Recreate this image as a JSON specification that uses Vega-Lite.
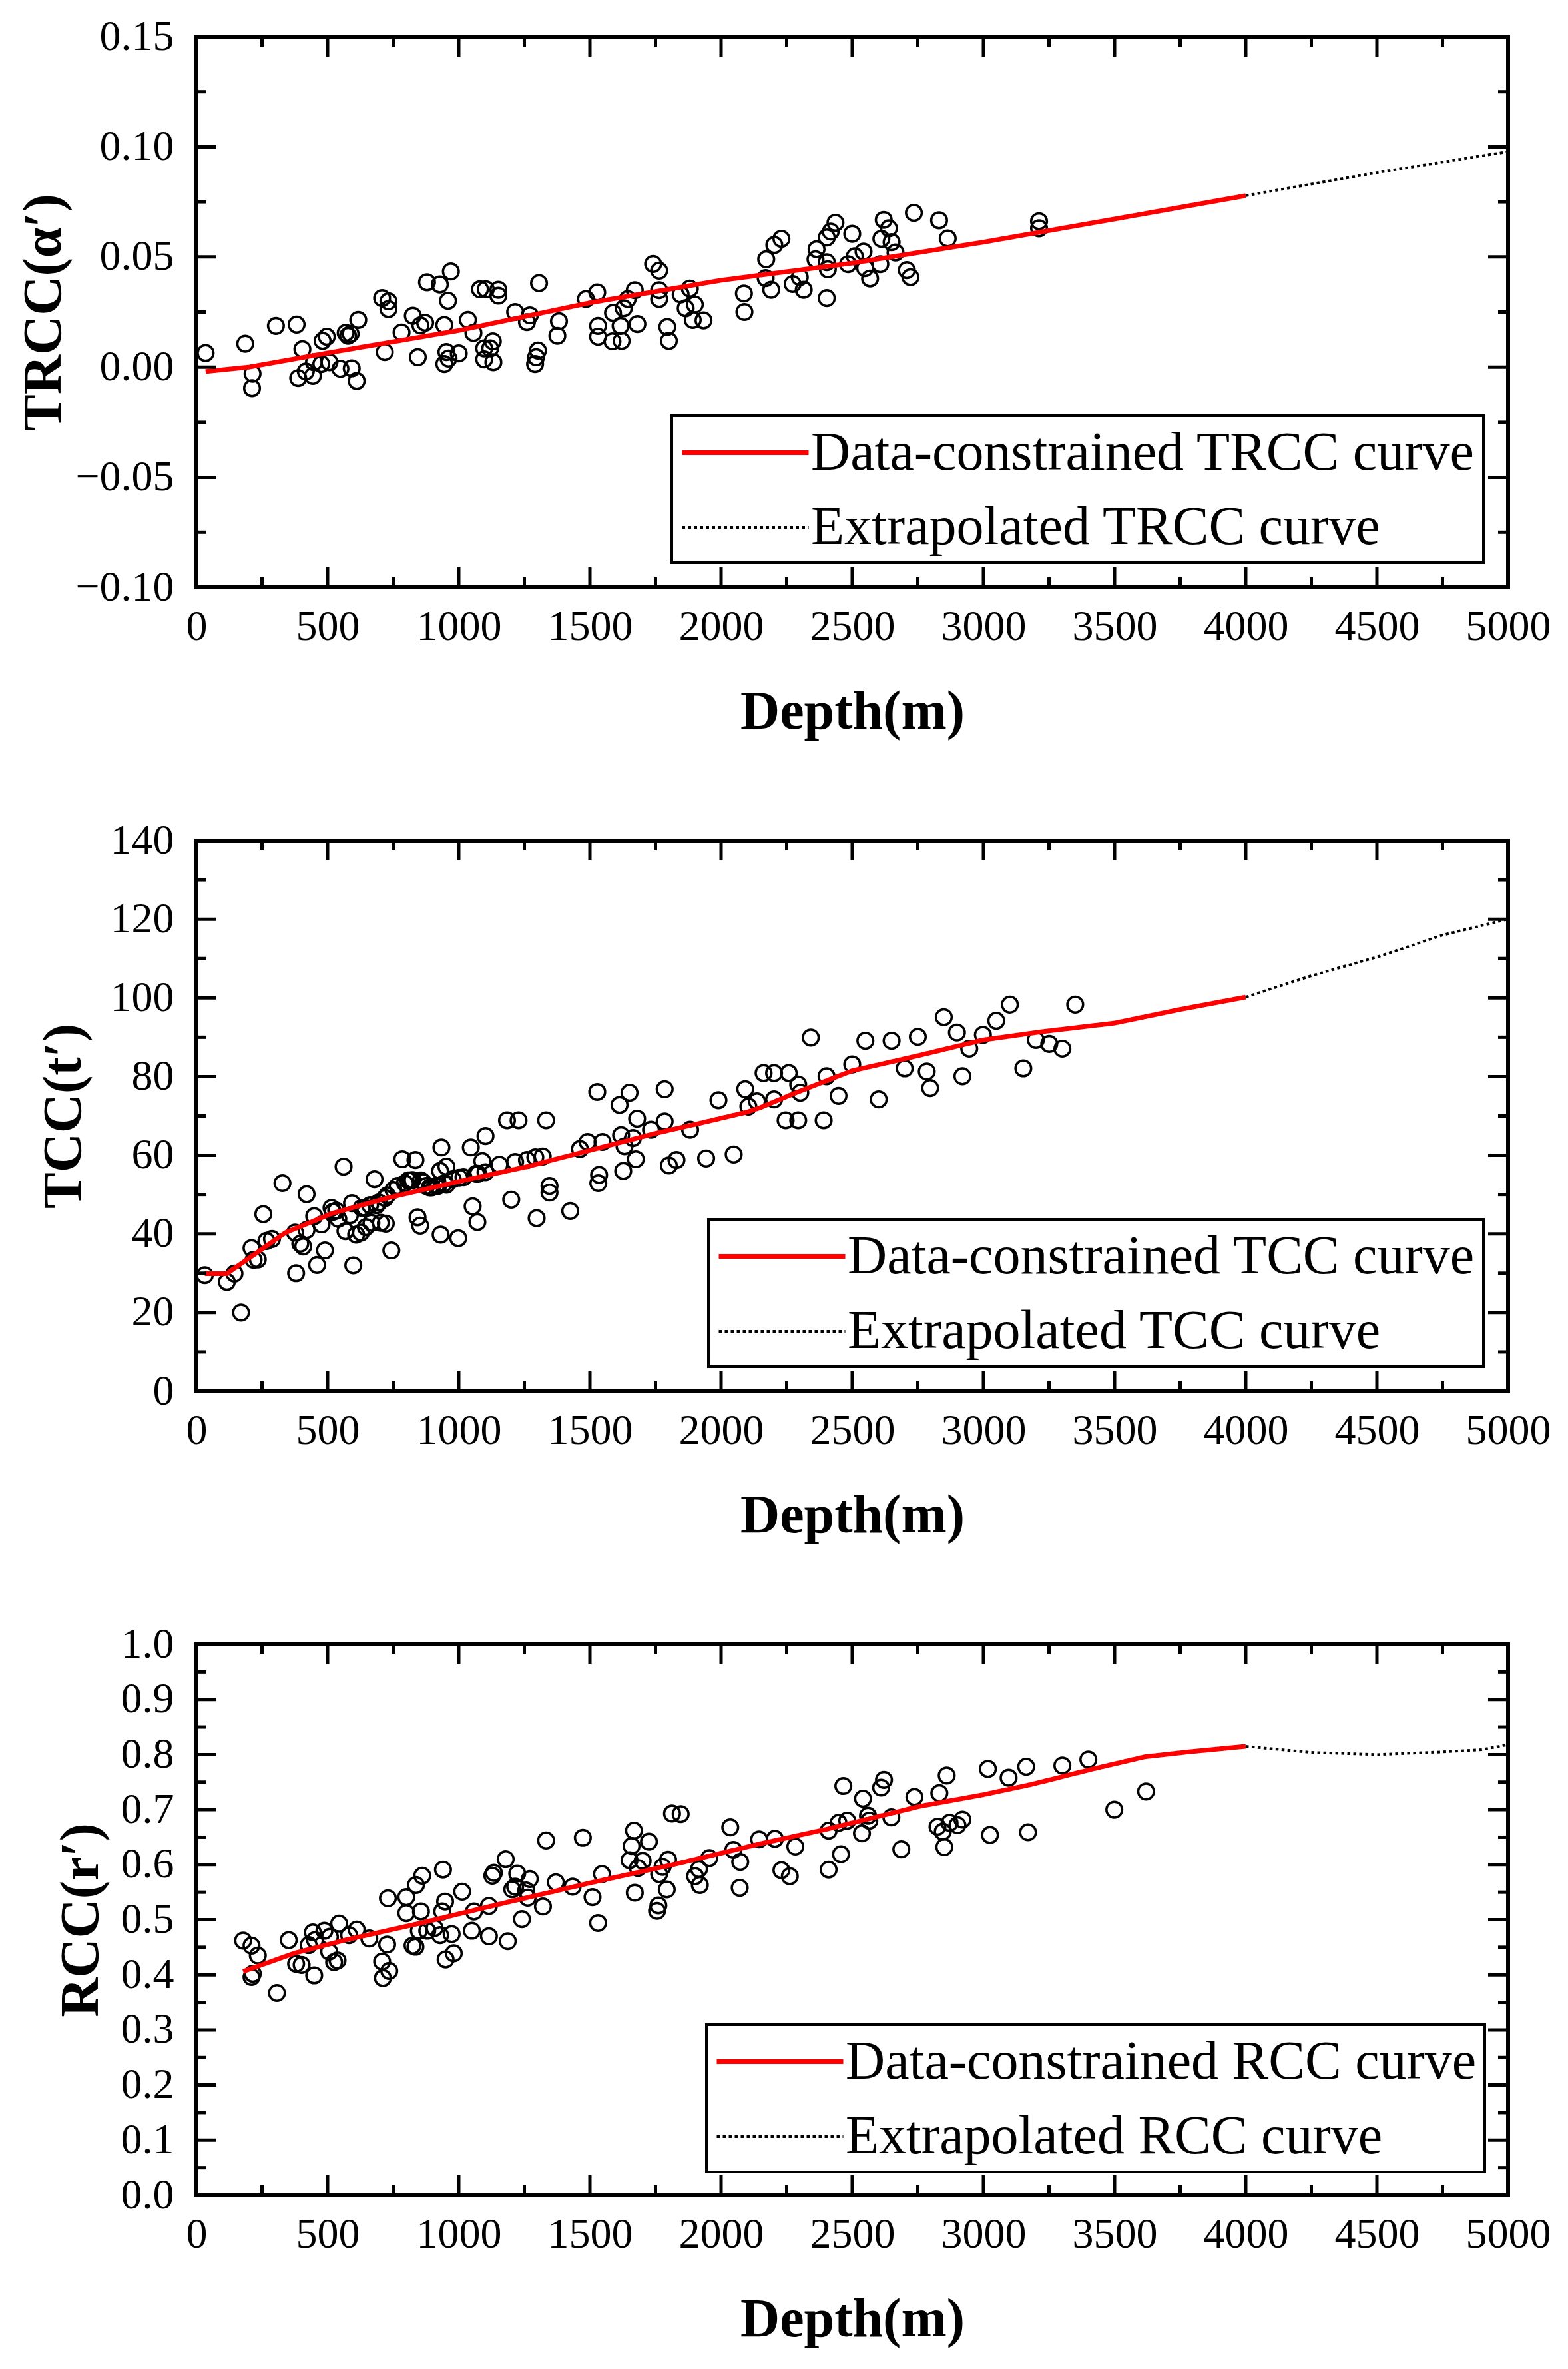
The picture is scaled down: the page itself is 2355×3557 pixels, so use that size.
{
  "$schema": "https://vega.github.io/schema/vega-lite/v6.json",
  "background": "white",
  "padding": {"left": 21, "top": 20, "right": 0, "bottom": 0},
  "datasets": {
    "xt": [
      {"depth": 250, "kind": "minor"}, {"depth": 500, "kind": "major"}, {"depth": 750, "kind": "minor"}, {"depth": 1000, "kind": "major"},
      {"depth": 1250, "kind": "minor"}, {"depth": 1500, "kind": "major"}, {"depth": 1750, "kind": "minor"}, {"depth": 2000, "kind": "major"},
      {"depth": 2250, "kind": "minor"}, {"depth": 2500, "kind": "major"}, {"depth": 2750, "kind": "minor"}, {"depth": 3000, "kind": "major"},
      {"depth": 3250, "kind": "minor"}, {"depth": 3500, "kind": "major"}, {"depth": 3750, "kind": "minor"}, {"depth": 4000, "kind": "major"},
      {"depth": 4250, "kind": "minor"}, {"depth": 4500, "kind": "major"}, {"depth": 4750, "kind": "minor"}
    ],
    "yt1": [
      {"v": -0.075, "kind": "minor"}, {"v": -0.05, "kind": "major"}, {"v": -0.025, "kind": "minor"}, {"v": 0, "kind": "major"},
      {"v": 0.025, "kind": "minor"}, {"v": 0.05, "kind": "major"}, {"v": 0.075, "kind": "minor"}, {"v": 0.1, "kind": "major"},
      {"v": 0.125, "kind": "minor"}
    ],
    "yt2": [
      {"v": 10, "kind": "minor"}, {"v": 20, "kind": "major"}, {"v": 30, "kind": "minor"}, {"v": 40, "kind": "major"},
      {"v": 50, "kind": "minor"}, {"v": 60, "kind": "major"}, {"v": 70, "kind": "minor"}, {"v": 80, "kind": "major"},
      {"v": 90, "kind": "minor"}, {"v": 100, "kind": "major"}, {"v": 110, "kind": "minor"}, {"v": 120, "kind": "major"},
      {"v": 130, "kind": "minor"}
    ],
    "yt3": [
      {"v": 0.05, "kind": "minor"}, {"v": 0.1, "kind": "major"}, {"v": 0.15, "kind": "minor"}, {"v": 0.2, "kind": "major"},
      {"v": 0.25, "kind": "minor"}, {"v": 0.3, "kind": "major"}, {"v": 0.35, "kind": "minor"}, {"v": 0.4, "kind": "major"},
      {"v": 0.45, "kind": "minor"}, {"v": 0.5, "kind": "major"}, {"v": 0.55, "kind": "minor"}, {"v": 0.6, "kind": "major"},
      {"v": 0.65, "kind": "minor"}, {"v": 0.7, "kind": "major"}, {"v": 0.75, "kind": "minor"}, {"v": 0.8, "kind": "major"},
      {"v": 0.85, "kind": "minor"}, {"v": 0.9, "kind": "major"}, {"v": 0.95, "kind": "minor"}
    ],
    "p1": [
      {"depth": 35, "v": 0.0064}, {"depth": 186, "v": 0.0106}, {"depth": 214, "v": -0.003}, {"depth": 212, "v": -0.0096},
      {"depth": 303, "v": 0.0187}, {"depth": 382, "v": 0.0193}, {"depth": 388, "v": -0.005}, {"depth": 404, "v": 0.0081},
      {"depth": 417, "v": -0.002}, {"depth": 444, "v": -0.004}, {"depth": 448, "v": 0.0022}, {"depth": 476, "v": 0.0014},
      {"depth": 481, "v": 0.0119}, {"depth": 497, "v": 0.0138}, {"depth": 507, "v": 0.0022}, {"depth": 549, "v": -0.0008},
      {"depth": 569, "v": 0.0155}, {"depth": 578, "v": 0.0142}, {"depth": 588, "v": 0.0151}, {"depth": 592, "v": -0.0006},
      {"depth": 611, "v": -0.0063}, {"depth": 617, "v": 0.0214}, {"depth": 708, "v": 0.0313}, {"depth": 732, "v": 0.0299},
      {"depth": 732, "v": 0.0263}, {"depth": 718, "v": 0.0068}, {"depth": 782, "v": 0.0157}, {"depth": 825, "v": 0.0233},
      {"depth": 844, "v": 0.0045}, {"depth": 854, "v": 0.0189}, {"depth": 872, "v": 0.0201}, {"depth": 879, "v": 0.0385},
      {"depth": 928, "v": 0.0375}, {"depth": 945, "v": 0.0191}, {"depth": 945, "v": 0.0014}, {"depth": 953, "v": 0.0068},
      {"depth": 961, "v": 0.0039}, {"depth": 959, "v": 0.0301}, {"depth": 970, "v": 0.0434}, {"depth": 1000, "v": 0.0062},
      {"depth": 1035, "v": 0.0214}, {"depth": 1056, "v": 0.0155}, {"depth": 1081, "v": 0.0353}, {"depth": 1103, "v": 0.0353},
      {"depth": 1097, "v": 0.0085}, {"depth": 1097, "v": 0.0035}, {"depth": 1120, "v": 0.0085}, {"depth": 1130, "v": 0.0117},
      {"depth": 1132, "v": 0.0022}, {"depth": 1151, "v": 0.0351}, {"depth": 1151, "v": 0.0324}, {"depth": 1215, "v": 0.025},
      {"depth": 1260, "v": 0.0204}, {"depth": 1271, "v": 0.0235}, {"depth": 1291, "v": 0.0014}, {"depth": 1295, "v": 0.0045},
      {"depth": 1302, "v": 0.0075}, {"depth": 1306, "v": 0.0381}, {"depth": 1376, "v": 0.0142}, {"depth": 1382, "v": 0.0208},
      {"depth": 1485, "v": 0.0309}, {"depth": 1528, "v": 0.0339}, {"depth": 1531, "v": 0.0187}, {"depth": 1531, "v": 0.0138},
      {"depth": 1586, "v": 0.0117}, {"depth": 1588, "v": 0.0246}, {"depth": 1617, "v": 0.0187}, {"depth": 1621, "v": 0.0119},
      {"depth": 1629, "v": 0.0267}, {"depth": 1644, "v": 0.0309}, {"depth": 1671, "v": 0.0349}, {"depth": 1681, "v": 0.0195},
      {"depth": 1741, "v": 0.0468}, {"depth": 1764, "v": 0.0438}, {"depth": 1764, "v": 0.0349}, {"depth": 1764, "v": 0.0309},
      {"depth": 1795, "v": 0.0182}, {"depth": 1801, "v": 0.0119}, {"depth": 1846, "v": 0.033}, {"depth": 1865, "v": 0.0267},
      {"depth": 1881, "v": 0.0356}, {"depth": 1900, "v": 0.0284}, {"depth": 1892, "v": 0.0214}, {"depth": 1933, "v": 0.0212},
      {"depth": 2087, "v": 0.0334}, {"depth": 2089, "v": 0.025}, {"depth": 2172, "v": 0.0489}, {"depth": 2170, "v": 0.0404},
      {"depth": 2191, "v": 0.0351}, {"depth": 2203, "v": 0.0554}, {"depth": 2230, "v": 0.0582}, {"depth": 2273, "v": 0.0377},
      {"depth": 2300, "v": 0.0408}, {"depth": 2315, "v": 0.0351}, {"depth": 2360, "v": 0.0489}, {"depth": 2364, "v": 0.0535},
      {"depth": 2403, "v": 0.0588}, {"depth": 2418, "v": 0.0615}, {"depth": 2436, "v": 0.0655}, {"depth": 2403, "v": 0.0476},
      {"depth": 2407, "v": 0.0444}, {"depth": 2403, "v": 0.0313}, {"depth": 2484, "v": 0.0467}, {"depth": 2500, "v": 0.0605},
      {"depth": 2510, "v": 0.0503}, {"depth": 2543, "v": 0.0524}, {"depth": 2549, "v": 0.0449}, {"depth": 2568, "v": 0.0402},
      {"depth": 2607, "v": 0.0467}, {"depth": 2611, "v": 0.0582}, {"depth": 2620, "v": 0.0668}, {"depth": 2640, "v": 0.063},
      {"depth": 2650, "v": 0.0567}, {"depth": 2665, "v": 0.052}, {"depth": 2708, "v": 0.044}, {"depth": 2722, "v": 0.0408},
      {"depth": 2735, "v": 0.07}, {"depth": 2831, "v": 0.0666}, {"depth": 2864, "v": 0.0584}, {"depth": 3212, "v": 0.0662},
      {"depth": 3212, "v": 0.063}
    ],
    "c1": [
      {"depth": 35, "v": -0.002, "curve": "Data-constrained TRCC curve"},
      {"depth": 200, "v": 0.0, "curve": "Data-constrained TRCC curve"},
      {"depth": 500, "v": 0.0064, "curve": "Data-constrained TRCC curve"},
      {"depth": 1000, "v": 0.0166, "curve": "Data-constrained TRCC curve"},
      {"depth": 1500, "v": 0.0292, "curve": "Data-constrained TRCC curve"},
      {"depth": 2000, "v": 0.0394, "curve": "Data-constrained TRCC curve"},
      {"depth": 2500, "v": 0.0472, "curve": "Data-constrained TRCC curve"},
      {"depth": 3000, "v": 0.0567, "curve": "Data-constrained TRCC curve"},
      {"depth": 3500, "v": 0.0672, "curve": "Data-constrained TRCC curve"},
      {"depth": 4000, "v": 0.0778, "curve": "Data-constrained TRCC curve"},
      {"depth": 4000, "v": 0.0778, "curve": "Extrapolated TRCC curve"},
      {"depth": 4500, "v": 0.0883, "curve": "Extrapolated TRCC curve"},
      {"depth": 5000, "v": 0.0978, "curve": "Extrapolated TRCC curve"}
    ],
    "p2": [
      {"depth": 32, "v": 29.5}, {"depth": 116, "v": 27.8}, {"depth": 145, "v": 29.9}, {"depth": 170, "v": 20.0},
      {"depth": 210, "v": 36.4}, {"depth": 218, "v": 33.4}, {"depth": 234, "v": 33.5}, {"depth": 255, "v": 45.0},
      {"depth": 267, "v": 38.2}, {"depth": 288, "v": 38.7}, {"depth": 328, "v": 52.9}, {"depth": 380, "v": 30.0},
      {"depth": 376, "v": 40.3}, {"depth": 396, "v": 37.5}, {"depth": 407, "v": 36.8}, {"depth": 420, "v": 50.1},
      {"depth": 420, "v": 41.0}, {"depth": 449, "v": 44.5}, {"depth": 460, "v": 32.1}, {"depth": 477, "v": 42.4},
      {"depth": 490, "v": 35.8}, {"depth": 515, "v": 46.6}, {"depth": 520, "v": 45.6}, {"depth": 533, "v": 45.9},
      {"depth": 541, "v": 43.8}, {"depth": 561, "v": 57.1}, {"depth": 568, "v": 40.7}, {"depth": 593, "v": 47.8},
      {"depth": 598, "v": 32.0}, {"depth": 585, "v": 44.7}, {"depth": 609, "v": 39.8}, {"depth": 627, "v": 40.3},
      {"depth": 630, "v": 46.6}, {"depth": 646, "v": 41.7}, {"depth": 643, "v": 46.6}, {"depth": 662, "v": 47.3},
      {"depth": 667, "v": 42.8}, {"depth": 679, "v": 53.9}, {"depth": 687, "v": 47.3}, {"depth": 695, "v": 48.0},
      {"depth": 703, "v": 42.8}, {"depth": 719, "v": 49.1}, {"depth": 722, "v": 42.6}, {"depth": 727, "v": 49.8},
      {"depth": 743, "v": 35.8}, {"depth": 751, "v": 51.2}, {"depth": 767, "v": 52.2}, {"depth": 785, "v": 59.0},
      {"depth": 795, "v": 52.9}, {"depth": 808, "v": 53.6}, {"depth": 816, "v": 53.6}, {"depth": 824, "v": 53.7},
      {"depth": 835, "v": 58.8}, {"depth": 843, "v": 44.2}, {"depth": 853, "v": 42.1}, {"depth": 856, "v": 53.6},
      {"depth": 864, "v": 53.2}, {"depth": 876, "v": 52.2}, {"depth": 889, "v": 51.8}, {"depth": 897, "v": 51.8},
      {"depth": 913, "v": 52.2}, {"depth": 921, "v": 52.2}, {"depth": 934, "v": 62.0}, {"depth": 931, "v": 39.8},
      {"depth": 929, "v": 56.0}, {"depth": 945, "v": 52.9}, {"depth": 953, "v": 57.1}, {"depth": 953, "v": 52.5},
      {"depth": 977, "v": 53.9}, {"depth": 998, "v": 38.9}, {"depth": 1002, "v": 54.3}, {"depth": 1018, "v": 54.4},
      {"depth": 1046, "v": 62.0}, {"depth": 1053, "v": 47.0}, {"depth": 1066, "v": 55.3}, {"depth": 1071, "v": 43.0},
      {"depth": 1074, "v": 55.3}, {"depth": 1090, "v": 58.5}, {"depth": 1102, "v": 64.9}, {"depth": 1102, "v": 55.7},
      {"depth": 1155, "v": 57.6}, {"depth": 1184, "v": 68.9}, {"depth": 1200, "v": 48.7}, {"depth": 1215, "v": 58.3},
      {"depth": 1228, "v": 68.9}, {"depth": 1260, "v": 58.8}, {"depth": 1292, "v": 59.5}, {"depth": 1297, "v": 44.0},
      {"depth": 1320, "v": 59.7}, {"depth": 1333, "v": 68.9}, {"depth": 1346, "v": 52.2}, {"depth": 1346, "v": 50.5},
      {"depth": 1425, "v": 45.8}, {"depth": 1462, "v": 61.6}, {"depth": 1491, "v": 63.4}, {"depth": 1528, "v": 76.1},
      {"depth": 1532, "v": 52.9}, {"depth": 1535, "v": 55.0}, {"depth": 1548, "v": 63.4}, {"depth": 1613, "v": 72.8},
      {"depth": 1619, "v": 65.1}, {"depth": 1627, "v": 56.0}, {"depth": 1632, "v": 62.3}, {"depth": 1651, "v": 75.9},
      {"depth": 1664, "v": 64.4}, {"depth": 1675, "v": 59.0}, {"depth": 1680, "v": 69.3}, {"depth": 1733, "v": 66.5},
      {"depth": 1785, "v": 76.8}, {"depth": 1785, "v": 68.6}, {"depth": 1801, "v": 57.4}, {"depth": 1830, "v": 58.8},
      {"depth": 1882, "v": 66.5}, {"depth": 1943, "v": 59.2}, {"depth": 1990, "v": 74.0}, {"depth": 2048, "v": 60.2},
      {"depth": 2092, "v": 76.8}, {"depth": 2104, "v": 72.4}, {"depth": 2137, "v": 73.7}, {"depth": 2162, "v": 80.9},
      {"depth": 2202, "v": 80.9}, {"depth": 2202, "v": 74.2}, {"depth": 2246, "v": 68.9}, {"depth": 2258, "v": 80.9},
      {"depth": 2294, "v": 78.0}, {"depth": 2294, "v": 68.9}, {"depth": 2302, "v": 75.9}, {"depth": 2342, "v": 89.9},
      {"depth": 2391, "v": 68.9}, {"depth": 2402, "v": 80.1}, {"depth": 2448, "v": 75.1}, {"depth": 2500, "v": 83.1},
      {"depth": 2550, "v": 89.1}, {"depth": 2601, "v": 74.2}, {"depth": 2650, "v": 89.1}, {"depth": 2700, "v": 82.1},
      {"depth": 2750, "v": 90.1}, {"depth": 2784, "v": 81.3}, {"depth": 2797, "v": 77.1}, {"depth": 2849, "v": 95.1},
      {"depth": 2899, "v": 91.2}, {"depth": 2920, "v": 80.1}, {"depth": 2946, "v": 87.1}, {"depth": 2998, "v": 90.6},
      {"depth": 3049, "v": 94.2}, {"depth": 3101, "v": 98.3}, {"depth": 3152, "v": 82.1}, {"depth": 3200, "v": 89.3},
      {"depth": 3251, "v": 88.3}, {"depth": 3301, "v": 87.1}, {"depth": 3350, "v": 98.3}
    ],
    "c2": [
      {"depth": 32, "v": 29.9, "curve": "Data-constrained TCC curve"},
      {"depth": 116, "v": 29.9, "curve": "Data-constrained TCC curve"},
      {"depth": 234, "v": 35.4, "curve": "Data-constrained TCC curve"},
      {"depth": 339, "v": 40.3, "curve": "Data-constrained TCC curve"},
      {"depth": 517, "v": 45.2, "curve": "Data-constrained TCC curve"},
      {"depth": 727, "v": 49.1, "curve": "Data-constrained TCC curve"},
      {"depth": 1018, "v": 53.6, "curve": "Data-constrained TCC curve"},
      {"depth": 1260, "v": 57.1, "curve": "Data-constrained TCC curve"},
      {"depth": 1502, "v": 61.3, "curve": "Data-constrained TCC curve"},
      {"depth": 1745, "v": 65.5, "curve": "Data-constrained TCC curve"},
      {"depth": 1923, "v": 68.2, "curve": "Data-constrained TCC curve"},
      {"depth": 2100, "v": 71.0, "curve": "Data-constrained TCC curve"},
      {"depth": 2149, "v": 72.1, "curve": "Data-constrained TCC curve"},
      {"depth": 2278, "v": 75.7, "curve": "Data-constrained TCC curve"},
      {"depth": 2407, "v": 79.1, "curve": "Data-constrained TCC curve"},
      {"depth": 2500, "v": 81.5, "curve": "Data-constrained TCC curve"},
      {"depth": 2756, "v": 85.4, "curve": "Data-constrained TCC curve"},
      {"depth": 2998, "v": 89.3, "curve": "Data-constrained TCC curve"},
      {"depth": 3222, "v": 91.4, "curve": "Data-constrained TCC curve"},
      {"depth": 3500, "v": 93.6, "curve": "Data-constrained TCC curve"},
      {"depth": 3745, "v": 97.0, "curve": "Data-constrained TCC curve"},
      {"depth": 4000, "v": 100.2, "curve": "Data-constrained TCC curve"},
      {"depth": 4000, "v": 100.2, "curve": "Extrapolated TCC curve"},
      {"depth": 4249, "v": 105.6, "curve": "Extrapolated TCC curve"},
      {"depth": 4501, "v": 110.4, "curve": "Extrapolated TCC curve"},
      {"depth": 4753, "v": 116.0, "curve": "Extrapolated TCC curve"},
      {"depth": 5000, "v": 120.0, "curve": "Extrapolated TCC curve"}
    ],
    "p3": [
      {"depth": 178, "v": 0.462}, {"depth": 210, "v": 0.453}, {"depth": 234, "v": 0.435}, {"depth": 210, "v": 0.396},
      {"depth": 215, "v": 0.402}, {"depth": 307, "v": 0.367}, {"depth": 352, "v": 0.463}, {"depth": 380, "v": 0.420},
      {"depth": 401, "v": 0.418}, {"depth": 428, "v": 0.454}, {"depth": 444, "v": 0.477}, {"depth": 452, "v": 0.463},
      {"depth": 449, "v": 0.399}, {"depth": 488, "v": 0.480}, {"depth": 509, "v": 0.469}, {"depth": 506, "v": 0.442},
      {"depth": 525, "v": 0.423}, {"depth": 538, "v": 0.426}, {"depth": 544, "v": 0.493}, {"depth": 582, "v": 0.472},
      {"depth": 611, "v": 0.482}, {"depth": 659, "v": 0.466}, {"depth": 708, "v": 0.424}, {"depth": 727, "v": 0.455},
      {"depth": 730, "v": 0.539}, {"depth": 735, "v": 0.407}, {"depth": 711, "v": 0.394}, {"depth": 800, "v": 0.541},
      {"depth": 800, "v": 0.512}, {"depth": 824, "v": 0.453}, {"depth": 835, "v": 0.451}, {"depth": 837, "v": 0.563},
      {"depth": 856, "v": 0.515}, {"depth": 861, "v": 0.580}, {"depth": 848, "v": 0.480}, {"depth": 880, "v": 0.480},
      {"depth": 908, "v": 0.485}, {"depth": 929, "v": 0.472}, {"depth": 937, "v": 0.515}, {"depth": 940, "v": 0.591},
      {"depth": 948, "v": 0.533}, {"depth": 950, "v": 0.428}, {"depth": 973, "v": 0.474}, {"depth": 981, "v": 0.439},
      {"depth": 1013, "v": 0.551}, {"depth": 1050, "v": 0.480}, {"depth": 1058, "v": 0.515}, {"depth": 1115, "v": 0.525},
      {"depth": 1115, "v": 0.470}, {"depth": 1128, "v": 0.580}, {"depth": 1134, "v": 0.585}, {"depth": 1179, "v": 0.610},
      {"depth": 1187, "v": 0.461}, {"depth": 1204, "v": 0.555}, {"depth": 1215, "v": 0.560}, {"depth": 1223, "v": 0.584},
      {"depth": 1241, "v": 0.501}, {"depth": 1257, "v": 0.553}, {"depth": 1263, "v": 0.540}, {"depth": 1271, "v": 0.574},
      {"depth": 1321, "v": 0.524}, {"depth": 1333, "v": 0.644}, {"depth": 1370, "v": 0.568}, {"depth": 1434, "v": 0.560},
      {"depth": 1473, "v": 0.649}, {"depth": 1510, "v": 0.541}, {"depth": 1531, "v": 0.494}, {"depth": 1546, "v": 0.583},
      {"depth": 1651, "v": 0.608}, {"depth": 1659, "v": 0.634}, {"depth": 1668, "v": 0.662}, {"depth": 1671, "v": 0.549},
      {"depth": 1683, "v": 0.594}, {"depth": 1701, "v": 0.607}, {"depth": 1725, "v": 0.642}, {"depth": 1756, "v": 0.516},
      {"depth": 1761, "v": 0.526}, {"depth": 1764, "v": 0.583}, {"depth": 1777, "v": 0.596}, {"depth": 1793, "v": 0.555},
      {"depth": 1798, "v": 0.609}, {"depth": 1813, "v": 0.693}, {"depth": 1846, "v": 0.692}, {"depth": 1901, "v": 0.579},
      {"depth": 1916, "v": 0.592}, {"depth": 1919, "v": 0.563}, {"depth": 1955, "v": 0.612}, {"depth": 2035, "v": 0.668},
      {"depth": 2047, "v": 0.627}, {"depth": 2073, "v": 0.605}, {"depth": 2071, "v": 0.558}, {"depth": 2145, "v": 0.646},
      {"depth": 2205, "v": 0.647}, {"depth": 2230, "v": 0.590}, {"depth": 2262, "v": 0.579}, {"depth": 2283, "v": 0.633},
      {"depth": 2410, "v": 0.662}, {"depth": 2410, "v": 0.591}, {"depth": 2448, "v": 0.676}, {"depth": 2457, "v": 0.619},
      {"depth": 2466, "v": 0.743}, {"depth": 2481, "v": 0.680}, {"depth": 2537, "v": 0.657}, {"depth": 2541, "v": 0.720},
      {"depth": 2560, "v": 0.689}, {"depth": 2565, "v": 0.680}, {"depth": 2610, "v": 0.740}, {"depth": 2621, "v": 0.754},
      {"depth": 2649, "v": 0.686}, {"depth": 2687, "v": 0.628}, {"depth": 2737, "v": 0.723}, {"depth": 2825, "v": 0.669},
      {"depth": 2832, "v": 0.730}, {"depth": 2845, "v": 0.660}, {"depth": 2851, "v": 0.632}, {"depth": 2860, "v": 0.762},
      {"depth": 2871, "v": 0.676}, {"depth": 2901, "v": 0.672}, {"depth": 2920, "v": 0.682}, {"depth": 3017, "v": 0.774},
      {"depth": 3025, "v": 0.654}, {"depth": 3096, "v": 0.758}, {"depth": 3163, "v": 0.778}, {"depth": 3170, "v": 0.659},
      {"depth": 3301, "v": 0.780}, {"depth": 3400, "v": 0.791}, {"depth": 3499, "v": 0.700}, {"depth": 3620, "v": 0.733}
    ],
    "c3": [
      {"depth": 178, "v": 0.406, "curve": "Data-constrained RCC curve"},
      {"depth": 372, "v": 0.439, "curve": "Data-constrained RCC curve"},
      {"depth": 565, "v": 0.463, "curve": "Data-constrained RCC curve"},
      {"depth": 856, "v": 0.494, "curve": "Data-constrained RCC curve"},
      {"depth": 1179, "v": 0.531, "curve": "Data-constrained RCC curve"},
      {"depth": 1502, "v": 0.567, "curve": "Data-constrained RCC curve"},
      {"depth": 1826, "v": 0.601, "curve": "Data-constrained RCC curve"},
      {"depth": 2149, "v": 0.638, "curve": "Data-constrained RCC curve"},
      {"depth": 2407, "v": 0.665, "curve": "Data-constrained RCC curve"},
      {"depth": 2500, "v": 0.676, "curve": "Data-constrained RCC curve"},
      {"depth": 2756, "v": 0.706, "curve": "Data-constrained RCC curve"},
      {"depth": 2998, "v": 0.727, "curve": "Data-constrained RCC curve"},
      {"depth": 3185, "v": 0.746, "curve": "Data-constrained RCC curve"},
      {"depth": 3409, "v": 0.773, "curve": "Data-constrained RCC curve"},
      {"depth": 3615, "v": 0.796, "curve": "Data-constrained RCC curve"},
      {"depth": 3783, "v": 0.805, "curve": "Data-constrained RCC curve"},
      {"depth": 4000, "v": 0.815, "curve": "Data-constrained RCC curve"},
      {"depth": 4000, "v": 0.815, "curve": "Extrapolated RCC curve"},
      {"depth": 4249, "v": 0.804, "curve": "Extrapolated RCC curve"},
      {"depth": 4501, "v": 0.800, "curve": "Extrapolated RCC curve"},
      {"depth": 4753, "v": 0.805, "curve": "Extrapolated RCC curve"},
      {"depth": 4900, "v": 0.809, "curve": "Extrapolated RCC curve"},
      {"depth": 5000, "v": 0.818, "curve": "Extrapolated RCC curve"}
    ]
  },
  "vconcat": [
    {
      "width": 1970,
      "height": 827,
      "resolve": {"axis": {"x": "independent", "y": "independent"}},
      "layer": [
        {
          "data": {"name": "p1"},
          "mark": {"type": "point", "shape": "circle", "filled": false, "stroke": "black", "strokeWidth": 3.5, "size": 560, "opacity": 1},
          "encoding": {
            "x": {"field": "depth", "type": "quantitative", "scale": {"domain": [0, 5000], "nice": false},
              "axis": {"orient": "bottom", "title": "Depth(m)", "values": [0, 500, 1000, 1500, 2000, 2500, 3000, 3500, 4000, 4500, 5000], "format": "d", "labelPadding": 27, "titlePadding": 55}},
            "y": {"field": "v", "type": "quantitative", "scale": {"domain": [-0.1, 0.15], "nice": false, "zero": false},
              "axis": {"orient": "left", "title": "TRCC(α′)", "values": [-0.1, -0.05, 0, 0.05, 0.1, 0.15], "format": ".2f", "labelPadding": 34, "titlePadding": 5}}
          }
        },
        {
          "data": {"name": "c1"},
          "mark": {"type": "line", "strokeCap": "butt"},
          "encoding": {
            "x": {"field": "depth", "type": "quantitative", "axis": null},
            "y": {"field": "v", "type": "quantitative", "axis": null},
            "color": {"field": "curve", "type": "nominal",
              "scale": {"domain": ["Data-constrained TRCC curve", "Extrapolated TRCC curve"], "range": ["#ff0000", "#000000"]},
              "legend": {"title": null, "orient": "bottom-right", "offset": 37}},
            "strokeDash": {"field": "curve", "type": "nominal",
              "scale": {"domain": ["Data-constrained TRCC curve", "Extrapolated TRCC curve"], "range": [[1, 0], [4.5, 4.5]]},
              "legend": {"title": null, "orient": "bottom-right", "offset": 37}},
            "strokeWidth": {"field": "curve", "type": "nominal",
              "scale": {"domain": ["Data-constrained TRCC curve", "Extrapolated TRCC curve"], "range": [7, 4]},
              "legend": {"title": null, "orient": "bottom-right", "offset": 37}}
          }
        },
        {
          "data": {"name": "xt"},
          "mark": {"type": "tick", "orient": "vertical", "color": "black", "thickness": 5, "clip": true, "opacity": 1},
          "encoding": {
            "x": {"field": "depth", "type": "quantitative", "axis": null},
            "y": {"datum": -0.1, "type": "quantitative", "axis": null},
            "size": {"field": "kind", "type": "ordinal", "scale": {"domain": ["major", "minor"], "range": [60, 30]}, "legend": null}
          }
        },
        {
          "data": {"name": "xt"},
          "mark": {"type": "tick", "orient": "vertical", "color": "black", "thickness": 5, "clip": true, "opacity": 1},
          "encoding": {
            "x": {"field": "depth", "type": "quantitative", "axis": null},
            "y": {"datum": 0.15, "type": "quantitative", "axis": null},
            "size": {"field": "kind", "type": "ordinal", "scale": {"domain": ["major", "minor"], "range": [60, 30]}, "legend": null}
          }
        },
        {
          "data": {"name": "yt1"},
          "mark": {"type": "tick", "orient": "horizontal", "color": "black", "thickness": 5, "clip": true, "opacity": 1},
          "encoding": {
            "x": {"datum": 0, "type": "quantitative", "axis": null},
            "y": {"field": "v", "type": "quantitative", "axis": null},
            "size": {"field": "kind", "type": "ordinal", "scale": {"domain": ["major", "minor"], "range": [60, 30]}, "legend": null}
          }
        },
        {
          "data": {"name": "yt1"},
          "mark": {"type": "tick", "orient": "horizontal", "color": "black", "thickness": 5, "clip": true, "opacity": 1},
          "encoding": {
            "x": {"datum": 5000, "type": "quantitative", "axis": null},
            "y": {"field": "v", "type": "quantitative", "axis": null},
            "size": {"field": "kind", "type": "ordinal", "scale": {"domain": ["major", "minor"], "range": [60, 30]}, "legend": null}
          }
        }
      ]
    },
    {
      "width": 1970,
      "height": 827,
      "resolve": {"axis": {"x": "independent", "y": "independent"}},
      "layer": [
        {
          "data": {"name": "p2"},
          "mark": {"type": "point", "shape": "circle", "filled": false, "stroke": "black", "strokeWidth": 3.5, "size": 560, "opacity": 1},
          "encoding": {
            "x": {"field": "depth", "type": "quantitative", "scale": {"domain": [0, 5000], "nice": false},
              "axis": {"orient": "bottom", "title": "Depth(m)", "values": [0, 500, 1000, 1500, 2000, 2500, 3000, 3500, 4000, 4500, 5000], "format": "d", "labelPadding": 27, "titlePadding": 55}},
            "y": {"field": "v", "type": "quantitative", "scale": {"domain": [0, 140], "nice": false},
              "axis": {"orient": "left", "title": "TCC(t′)", "values": [0, 20, 40, 60, 80, 100, 120, 140], "format": "d", "labelPadding": 34, "titlePadding": 28}}
          }
        },
        {
          "data": {"name": "c2"},
          "mark": {"type": "line", "strokeCap": "butt"},
          "encoding": {
            "x": {"field": "depth", "type": "quantitative", "axis": null},
            "y": {"field": "v", "type": "quantitative", "axis": null},
            "color": {"field": "curve", "type": "nominal",
              "scale": {"domain": ["Data-constrained TCC curve", "Extrapolated TCC curve"], "range": ["#ff0000", "#000000"]},
              "legend": {"title": null, "orient": "bottom-right", "offset": 37}},
            "strokeDash": {"field": "curve", "type": "nominal",
              "scale": {"domain": ["Data-constrained TCC curve", "Extrapolated TCC curve"], "range": [[1, 0], [4.5, 4.5]]},
              "legend": {"title": null, "orient": "bottom-right", "offset": 37}},
            "strokeWidth": {"field": "curve", "type": "nominal",
              "scale": {"domain": ["Data-constrained TCC curve", "Extrapolated TCC curve"], "range": [7, 4]},
              "legend": {"title": null, "orient": "bottom-right", "offset": 37}}
          }
        },
        {
          "data": {"name": "xt"},
          "mark": {"type": "tick", "orient": "vertical", "color": "black", "thickness": 5, "clip": true, "opacity": 1},
          "encoding": {
            "x": {"field": "depth", "type": "quantitative", "axis": null},
            "y": {"datum": 0, "type": "quantitative", "axis": null},
            "size": {"field": "kind", "type": "ordinal", "scale": {"domain": ["major", "minor"], "range": [60, 30]}, "legend": null}
          }
        },
        {
          "data": {"name": "xt"},
          "mark": {"type": "tick", "orient": "vertical", "color": "black", "thickness": 5, "clip": true, "opacity": 1},
          "encoding": {
            "x": {"field": "depth", "type": "quantitative", "axis": null},
            "y": {"datum": 140, "type": "quantitative", "axis": null},
            "size": {"field": "kind", "type": "ordinal", "scale": {"domain": ["major", "minor"], "range": [60, 30]}, "legend": null}
          }
        },
        {
          "data": {"name": "yt2"},
          "mark": {"type": "tick", "orient": "horizontal", "color": "black", "thickness": 5, "clip": true, "opacity": 1},
          "encoding": {
            "x": {"datum": 0, "type": "quantitative", "axis": null},
            "y": {"field": "v", "type": "quantitative", "axis": null},
            "size": {"field": "kind", "type": "ordinal", "scale": {"domain": ["major", "minor"], "range": [60, 30]}, "legend": null}
          }
        },
        {
          "data": {"name": "yt2"},
          "mark": {"type": "tick", "orient": "horizontal", "color": "black", "thickness": 5, "clip": true, "opacity": 1},
          "encoding": {
            "x": {"datum": 5000, "type": "quantitative", "axis": null},
            "y": {"field": "v", "type": "quantitative", "axis": null},
            "size": {"field": "kind", "type": "ordinal", "scale": {"domain": ["major", "minor"], "range": [60, 30]}, "legend": null}
          }
        }
      ]
    },
    {
      "width": 1970,
      "height": 827,
      "resolve": {"axis": {"x": "independent", "y": "independent"}},
      "layer": [
        {
          "data": {"name": "p3"},
          "mark": {"type": "point", "shape": "circle", "filled": false, "stroke": "black", "strokeWidth": 3.5, "size": 560, "opacity": 1},
          "encoding": {
            "x": {"field": "depth", "type": "quantitative", "scale": {"domain": [0, 5000], "nice": false},
              "axis": {"orient": "bottom", "title": "Depth(m)", "values": [0, 500, 1000, 1500, 2000, 2500, 3000, 3500, 4000, 4500, 5000], "format": "d", "labelPadding": 27, "titlePadding": 55}},
            "y": {"field": "v", "type": "quantitative", "scale": {"domain": [0, 1], "nice": false},
              "axis": {"orient": "left", "title": "RCC(r′)", "values": [0, 0.1, 0.2, 0.3, 0.4, 0.5, 0.6, 0.7, 0.8, 0.9, 1], "format": ".1f", "labelPadding": 34, "titlePadding": 18}}
          }
        },
        {
          "data": {"name": "c3"},
          "mark": {"type": "line", "strokeCap": "butt"},
          "encoding": {
            "x": {"field": "depth", "type": "quantitative", "axis": null},
            "y": {"field": "v", "type": "quantitative", "axis": null},
            "color": {"field": "curve", "type": "nominal",
              "scale": {"domain": ["Data-constrained RCC curve", "Extrapolated RCC curve"], "range": ["#ff0000", "#000000"]},
              "legend": {"title": null, "orient": "bottom-right", "offset": 35}},
            "strokeDash": {"field": "curve", "type": "nominal",
              "scale": {"domain": ["Data-constrained RCC curve", "Extrapolated RCC curve"], "range": [[1, 0], [4.5, 4.5]]},
              "legend": {"title": null, "orient": "bottom-right", "offset": 35}},
            "strokeWidth": {"field": "curve", "type": "nominal",
              "scale": {"domain": ["Data-constrained RCC curve", "Extrapolated RCC curve"], "range": [7, 4]},
              "legend": {"title": null, "orient": "bottom-right", "offset": 35}}
          }
        },
        {
          "data": {"name": "xt"},
          "mark": {"type": "tick", "orient": "vertical", "color": "black", "thickness": 5, "clip": true, "opacity": 1},
          "encoding": {
            "x": {"field": "depth", "type": "quantitative", "axis": null},
            "y": {"datum": 0, "type": "quantitative", "axis": null},
            "size": {"field": "kind", "type": "ordinal", "scale": {"domain": ["major", "minor"], "range": [60, 30]}, "legend": null}
          }
        },
        {
          "data": {"name": "xt"},
          "mark": {"type": "tick", "orient": "vertical", "color": "black", "thickness": 5, "clip": true, "opacity": 1},
          "encoding": {
            "x": {"field": "depth", "type": "quantitative", "axis": null},
            "y": {"datum": 1, "type": "quantitative", "axis": null},
            "size": {"field": "kind", "type": "ordinal", "scale": {"domain": ["major", "minor"], "range": [60, 30]}, "legend": null}
          }
        },
        {
          "data": {"name": "yt3"},
          "mark": {"type": "tick", "orient": "horizontal", "color": "black", "thickness": 5, "clip": true, "opacity": 1},
          "encoding": {
            "x": {"datum": 0, "type": "quantitative", "axis": null},
            "y": {"field": "v", "type": "quantitative", "axis": null},
            "size": {"field": "kind", "type": "ordinal", "scale": {"domain": ["major", "minor"], "range": [60, 30]}, "legend": null}
          }
        },
        {
          "data": {"name": "yt3"},
          "mark": {"type": "tick", "orient": "horizontal", "color": "black", "thickness": 5, "clip": true, "opacity": 1},
          "encoding": {
            "x": {"datum": 5000, "type": "quantitative", "axis": null},
            "y": {"field": "v", "type": "quantitative", "axis": null},
            "size": {"field": "kind", "type": "ordinal", "scale": {"domain": ["major", "minor"], "range": [60, 30]}, "legend": null}
          }
        }
      ]
    }
  ],
  "spacing": 380,
  "bounds": "flush",
  "resolve": {
    "scale": {"color": "independent", "strokeDash": "independent", "strokeWidth": "independent", "size": "independent"},
    "legend": {"color": "independent", "strokeDash": "independent", "strokeWidth": "independent"}
  },
  "config": {
    "font": "Liberation Serif",
    "view": {"stroke": "black", "strokeWidth": 6},
    "axis": {
      "domain": false,
      "grid": false,
      "ticks": false,
      "tickSize": 0,
      "labelFont": "Liberation Serif",
      "labelFontSize": 64,
      "labelColor": "black",
      "labelFlush": false,
      "labelOverlap": false,
      "titleFont": "Liberation Serif",
      "titleFontSize": 82,
      "titleFontWeight": "bold",
      "titleColor": "black"
    },
    "legend": {
      "labelFont": "Liberation Serif",
      "labelFontSize": 82,
      "labelColor": "black",
      "labelLimit": 0,
      "labelOffset": 110,
      "symbolType": "M-1,0H3.75",
      "symbolSize": 6400,
      "rowPadding": 29,
      "padding": 12,
      "strokeColor": "black",
      "strokeWidth": 4,
      "fillColor": "white",
      "cornerRadius": 0
    }
  }
}
